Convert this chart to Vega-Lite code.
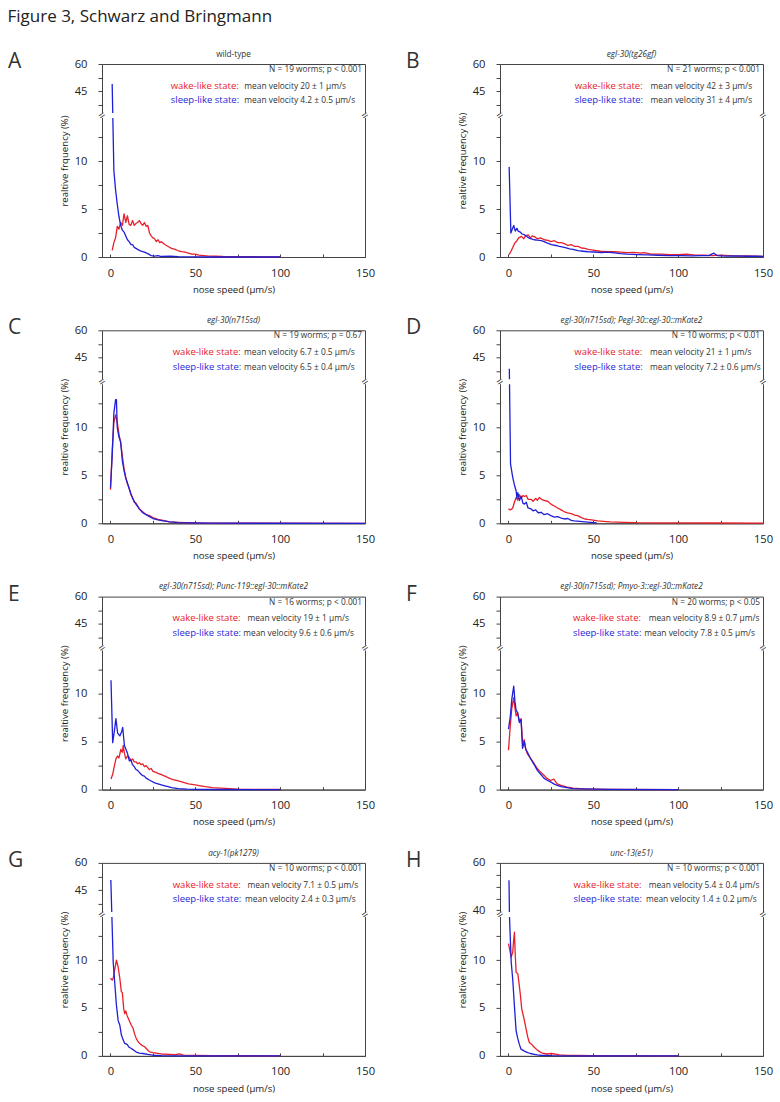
{
"$schema": "https://vega.github.io/schema/vega-lite/v6.json",
"padding": {"left": 7, "top": 8, "right": 0, "bottom": 0},
"autosize": {"type": "pad"},
"title": {"text": "Figure 3, Schwarz and Bringmann", "anchor": "start", "fontSize": 17, "fontStyle": "normal", "color": "#222", "offset": 23, "dy": 0, "frame": "bounds"},
"columns": 2,
"bounds": "flush",
"spacing": {"row": 73.3, "column": 135},
"datasets": {
"Aw": [{"x":1,"y":0.7},{"x":2,"y":1.5},{"x":3,"y":2.0},{"x":4,"y":3.2},{"x":5,"y":2.9},{"x":6,"y":3.6},{"x":7,"y":3.3},{"x":8,"y":4.5},{"x":9,"y":3.6},{"x":10,"y":4.3},{"x":11,"y":3.4},{"x":12,"y":3.3},{"x":13,"y":3.8},{"x":14,"y":3.3},{"x":15,"y":3.5},{"x":16,"y":3.6},{"x":17,"y":3.8},{"x":18,"y":3.5},{"x":19,"y":3.3},{"x":20,"y":3.6},{"x":21,"y":3.2},{"x":22,"y":3.3},{"x":23,"y":2.5},{"x":24,"y":2.2},{"x":25,"y":2.0},{"x":26,"y":1.9},{"x":27,"y":1.6},{"x":28,"y":1.8},{"x":29,"y":1.5},{"x":30,"y":1.6},{"x":32,"y":1.3},{"x":34,"y":1.1},{"x":36,"y":0.9},{"x":38,"y":0.8},{"x":40,"y":0.65},{"x":42,"y":0.55},{"x":44,"y":0.5},{"x":46,"y":0.4},{"x":48,"y":0.3},{"x":50,"y":0.3},{"x":52,"y":0.2},{"x":55,"y":0.15},{"x":58,"y":0.1},{"x":62,"y":0.08},{"x":66,"y":0.05},{"x":70,"y":0.04},{"x":80,"y":0.03},{"x":90,"y":0.02},{"x":100,"y":0.01}],
"As": [{"x":1,"y":49},{"x":2,"y":9},{"x":3,"y":7},{"x":4,"y":5.5},{"x":5,"y":4.2},{"x":6,"y":3.3},{"x":7,"y":2.8},{"x":8,"y":2.6},{"x":9,"y":2.2},{"x":10,"y":1.8},{"x":11,"y":1.6},{"x":12,"y":1.3},{"x":13,"y":1.3},{"x":14,"y":1.0},{"x":16,"y":0.8},{"x":18,"y":0.6},{"x":20,"y":0.5},{"x":22,"y":0.35},{"x":24,"y":0.15},{"x":26,"y":0.1},{"x":28,"y":0.15},{"x":30,"y":0.05},{"x":35,"y":0.1},{"x":40,"y":0.03},{"x":50,"y":0.01},{"x":60,"y":0},{"x":100,"y":0}],
"Bw": [{"x":0.4,"y":0.25},{"x":1.5,"y":0.6},{"x":2.5,"y":1.0},{"x":3.7,"y":1.45},{"x":5,"y":1.7},{"x":6,"y":2.0},{"x":7.6,"y":2.15},{"x":9,"y":1.9},{"x":10,"y":2.2},{"x":11.6,"y":2.3},{"x":13,"y":2.0},{"x":14,"y":2.2},{"x":15.5,"y":2.1},{"x":17,"y":1.9},{"x":19,"y":2.0},{"x":21,"y":1.8},{"x":23.3,"y":1.74},{"x":25,"y":1.6},{"x":27,"y":1.7},{"x":29,"y":1.5},{"x":31,"y":1.5},{"x":33,"y":1.4},{"x":35,"y":1.2},{"x":37,"y":1.3},{"x":39,"y":1.1},{"x":41,"y":1.1},{"x":43,"y":0.94},{"x":45,"y":0.9},{"x":47,"y":0.8},{"x":50.8,"y":0.7},{"x":54,"y":0.6},{"x":58,"y":0.55},{"x":62.5,"y":0.55},{"x":66,"y":0.5},{"x":70,"y":0.45},{"x":74,"y":0.48},{"x":78,"y":0.4},{"x":80,"y":0.45},{"x":84,"y":0.31},{"x":90,"y":0.3},{"x":95,"y":0.25},{"x":100,"y":0.25},{"x":105,"y":0.3},{"x":110,"y":0.2},{"x":115,"y":0.2},{"x":120,"y":0.15},{"x":125,"y":0.2},{"x":130,"y":0.15},{"x":135,"y":0.1},{"x":140,"y":0.12},{"x":145,"y":0.08},{"x":150,"y":0.05}],
"Bs": [{"x":0.4,"y":9.4},{"x":1.4,"y":2.5},{"x":2,"y":2.8},{"x":3.1,"y":3.3},{"x":4,"y":2.7},{"x":5,"y":3.0},{"x":5.7,"y":2.7},{"x":7,"y":2.6},{"x":8,"y":2.4},{"x":9.6,"y":2.3},{"x":11,"y":2.1},{"x":12,"y":2.0},{"x":13.5,"y":1.9},{"x":15,"y":1.8},{"x":17,"y":1.75},{"x":19.4,"y":1.7},{"x":21,"y":1.6},{"x":23,"y":1.45},{"x":25.3,"y":1.3},{"x":28,"y":1.2},{"x":30,"y":1.1},{"x":33,"y":1.0},{"x":36,"y":0.85},{"x":38,"y":0.8},{"x":41,"y":0.66},{"x":44,"y":0.6},{"x":47,"y":0.55},{"x":50.8,"y":0.52},{"x":55,"y":0.45},{"x":58,"y":0.5},{"x":62.5,"y":0.43},{"x":66,"y":0.35},{"x":70,"y":0.3},{"x":76,"y":0.25},{"x":82,"y":0.22},{"x":88,"y":0.18},{"x":95,"y":0.15},{"x":102,"y":0.15},{"x":108,"y":0.12},{"x":114,"y":0.15},{"x":118,"y":0.15},{"x":121,"y":0.4},{"x":123,"y":0.15},{"x":128,"y":0.1},{"x":135,"y":0.12},{"x":140,"y":0.08},{"x":146,"y":0.1},{"x":150,"y":0.05}],
"Cw": [{"x":0,"y":3.5},{"x":1,"y":7.5},{"x":2,"y":10.5},{"x":3,"y":11.3},{"x":4,"y":10.5},{"x":5,"y":9.3},{"x":6,"y":8.4},{"x":7,"y":7},{"x":8,"y":5.7},{"x":9,"y":4.8},{"x":10,"y":4.1},{"x":11,"y":3.7},{"x":12,"y":3.0},{"x":13,"y":2.7},{"x":14,"y":2.2},{"x":15,"y":2.1},{"x":17,"y":1.5},{"x":19,"y":1.2},{"x":21,"y":0.9},{"x":23,"y":0.8},{"x":25,"y":0.6},{"x":28,"y":0.4},{"x":31,"y":0.3},{"x":35,"y":0.15},{"x":40,"y":0.1},{"x":50,"y":0.03},{"x":60,"y":0.01},{"x":150,"y":0}],
"Cs": [{"x":0,"y":3.7},{"x":1,"y":7},{"x":2,"y":11.5},{"x":3,"y":12.9},{"x":3.5,"y":12.9},{"x":4,"y":10},{"x":5,"y":9},{"x":6,"y":8.5},{"x":7,"y":6.5},{"x":8,"y":5.5},{"x":9,"y":4.7},{"x":10,"y":4.2},{"x":11,"y":3.6},{"x":12,"y":3.1},{"x":13,"y":2.6},{"x":14,"y":2.3},{"x":15,"y":2.0},{"x":17,"y":1.5},{"x":19,"y":1.1},{"x":21,"y":0.9},{"x":23,"y":0.7},{"x":25,"y":0.5},{"x":28,"y":0.35},{"x":31,"y":0.25},{"x":35,"y":0.15},{"x":40,"y":0.08},{"x":50,"y":0.03},{"x":60,"y":0.01},{"x":150,"y":0}],
"Dw": [{"x":0,"y":1.5},{"x":1,"y":1.4},{"x":2,"y":1.5},{"x":2.5,"y":1.6},{"x":3.5,"y":2.2},{"x":4.5,"y":2.7},{"x":5.5,"y":2.4},{"x":6.5,"y":3.0},{"x":7.5,"y":2.6},{"x":8.5,"y":2.9},{"x":9.4,"y":2.8},{"x":10.5,"y":2.9},{"x":11.5,"y":2.5},{"x":13.3,"y":2.5},{"x":14.5,"y":2.3},{"x":16,"y":2.6},{"x":17,"y":2.4},{"x":18.2,"y":2.7},{"x":19.5,"y":2.5},{"x":21,"y":2.4},{"x":23.1,"y":2.3},{"x":25,"y":2.0},{"x":27,"y":1.8},{"x":29,"y":1.6},{"x":31,"y":1.4},{"x":33,"y":1.2},{"x":34.8,"y":1.1},{"x":37,"y":1.0},{"x":39,"y":0.85},{"x":40.7,"y":0.8},{"x":43,"y":0.6},{"x":45,"y":0.45},{"x":46.6,"y":0.4},{"x":49,"y":0.35},{"x":52.5,"y":0.25},{"x":56,"y":0.2},{"x":60,"y":0.15},{"x":68,"y":0.1},{"x":75,"y":0.06},{"x":85,"y":0.05},{"x":100,"y":0.05},{"x":120,"y":0.03},{"x":150,"y":0.02}],
"Ds": [{"x":0.5,"y":38.8},{"x":1.2,"y":6.2},{"x":2.5,"y":4.8},{"x":3.5,"y":4.0},{"x":4.5,"y":3.4},{"x":5,"y":2.6},{"x":5.5,"y":3.2},{"x":6.5,"y":2.4},{"x":7.5,"y":2.8},{"x":8.5,"y":2.1},{"x":9.4,"y":2.0},{"x":10.5,"y":2.2},{"x":11.5,"y":1.6},{"x":13.3,"y":1.5},{"x":14.5,"y":1.3},{"x":16,"y":1.4},{"x":17.5,"y":1.1},{"x":19.2,"y":1.15},{"x":21,"y":0.9},{"x":23,"y":1.0},{"x":25,"y":0.8},{"x":27,"y":0.65},{"x":29,"y":0.7},{"x":30.9,"y":0.55},{"x":33,"y":0.45},{"x":35,"y":0.5},{"x":37,"y":0.3},{"x":38.7,"y":0.25},{"x":42,"y":0.2},{"x":45,"y":0.15},{"x":48.5,"y":0.1},{"x":52,"y":0.05}],
"Ew": [{"x":0.3,"y":1.1},{"x":1.3,"y":1.6},{"x":2.2,"y":2.4},{"x":3.2,"y":3.2},{"x":4.2,"y":3.5},{"x":5,"y":3.3},{"x":6.1,"y":4.2},{"x":7,"y":3.9},{"x":7.5,"y":4.6},{"x":8.2,"y":3.8},{"x":9,"y":3.2},{"x":10,"y":3.5},{"x":11,"y":3.4},{"x":12,"y":3.0},{"x":13,"y":3.2},{"x":14,"y":2.9},{"x":15,"y":2.9},{"x":16,"y":2.7},{"x":17,"y":2.8},{"x":18,"y":2.6},{"x":19,"y":2.7},{"x":20,"y":2.4},{"x":21,"y":2.5},{"x":22.9,"y":2.1},{"x":24,"y":2.2},{"x":25,"y":1.9},{"x":26.8,"y":1.8},{"x":28,"y":1.7},{"x":30.7,"y":1.5},{"x":32,"y":1.4},{"x":34.6,"y":1.2},{"x":36,"y":1.1},{"x":38,"y":1.0},{"x":40,"y":0.9},{"x":42,"y":0.8},{"x":44,"y":0.7},{"x":46,"y":0.6},{"x":48,"y":0.55},{"x":50,"y":0.5},{"x":53,"y":0.4},{"x":56,"y":0.3},{"x":60,"y":0.2},{"x":65,"y":0.15},{"x":70,"y":0.1},{"x":75,"y":0.05},{"x":85,"y":0.02},{"x":100,"y":0.01}],
"Es": [{"x":0.3,"y":11.4},{"x":1.3,"y":4.9},{"x":2.2,"y":6.0},{"x":3.2,"y":7.4},{"x":4.2,"y":5.9},{"x":5.5,"y":5.6},{"x":6.5,"y":6.0},{"x":7.2,"y":6.5},{"x":8.2,"y":4.6},{"x":9.1,"y":4.2},{"x":10,"y":3.8},{"x":11.1,"y":3.0},{"x":12,"y":3.1},{"x":13,"y":2.6},{"x":14,"y":2.4},{"x":15,"y":2.1},{"x":16,"y":2.0},{"x":17,"y":1.8},{"x":18,"y":1.6},{"x":19,"y":1.45},{"x":20,"y":1.4},{"x":21,"y":1.2},{"x":22.9,"y":1.0},{"x":24,"y":0.9},{"x":26,"y":0.7},{"x":28,"y":0.6},{"x":30,"y":0.5},{"x":32,"y":0.4},{"x":34,"y":0.3},{"x":36,"y":0.2},{"x":38,"y":0.15},{"x":40,"y":0.1},{"x":45,"y":0.05},{"x":50,"y":0.03},{"x":60,"y":0.01},{"x":100,"y":0}],
"Fw": [{"x":0,"y":4.1},{"x":1,"y":6.5},{"x":1.9,"y":8.4},{"x":3.1,"y":9.6},{"x":3.8,"y":8.5},{"x":4.5,"y":7.7},{"x":5.4,"y":8.0},{"x":6.4,"y":7.2},{"x":7.4,"y":7.4},{"x":8.3,"y":4.8},{"x":9.3,"y":5.2},{"x":10.2,"y":4.2},{"x":11.2,"y":3.7},{"x":12.5,"y":3.4},{"x":14.1,"y":3.0},{"x":15.5,"y":2.6},{"x":17,"y":2.2},{"x":18.5,"y":1.9},{"x":20.9,"y":1.5},{"x":22.5,"y":1.2},{"x":24.8,"y":0.95},{"x":26.7,"y":1.1},{"x":28.7,"y":0.6},{"x":31,"y":0.45},{"x":34.5,"y":0.25},{"x":38,"y":0.15},{"x":44,"y":0.07},{"x":50,"y":0.04},{"x":60,"y":0.02},{"x":100,"y":0}],
"Fs": [{"x":0,"y":6.3},{"x":1,"y":7.5},{"x":2,"y":9.5},{"x":3.1,"y":10.8},{"x":3.8,"y":9.2},{"x":4.5,"y":8.3},{"x":5.4,"y":8.0},{"x":6.4,"y":7.0},{"x":7.4,"y":7.3},{"x":8.3,"y":4.3},{"x":9.3,"y":5.0},{"x":10.2,"y":4.2},{"x":11.2,"y":3.9},{"x":12.5,"y":3.4},{"x":14.1,"y":2.9},{"x":15.5,"y":2.5},{"x":17,"y":2.0},{"x":18.5,"y":1.7},{"x":20.9,"y":1.2},{"x":22.5,"y":1.0},{"x":24.8,"y":0.8},{"x":26.7,"y":0.6},{"x":28.7,"y":0.45},{"x":31,"y":0.3},{"x":34.5,"y":0.2},{"x":38,"y":0.1},{"x":44,"y":0.07},{"x":50,"y":0.04},{"x":60,"y":0.02},{"x":100,"y":0}],
"Gw": [{"x":0,"y":8.1},{"x":1,"y":7.9},{"x":1.6,"y":8.1},{"x":2.5,"y":9.0},{"x":3.5,"y":10.0},{"x":4.5,"y":9.3},{"x":5.5,"y":8.1},{"x":6.4,"y":6.7},{"x":7,"y":6.6},{"x":7.8,"y":4.9},{"x":8.4,"y":4.4},{"x":9,"y":4.7},{"x":9.8,"y":4.2},{"x":11.3,"y":3.6},{"x":12.3,"y":3.2},{"x":13.3,"y":2.9},{"x":14.2,"y":2.3},{"x":15.2,"y":1.8},{"x":16.2,"y":1.5},{"x":17.2,"y":1.3},{"x":18.5,"y":1.1},{"x":20.1,"y":0.95},{"x":21.5,"y":0.7},{"x":23,"y":0.42},{"x":25,"y":0.35},{"x":26.9,"y":0.3},{"x":30,"y":0.2},{"x":34.8,"y":0.15},{"x":38,"y":0.12},{"x":40.7,"y":0.2},{"x":43,"y":0.08},{"x":50,"y":0.05},{"x":60,"y":0.03},{"x":100,"y":0.01}],
"Gs": [{"x":0.2,"y":50.6},{"x":1.6,"y":9.8},{"x":2.6,"y":7.4},{"x":3.5,"y":5.3},{"x":4.5,"y":3.7},{"x":5.5,"y":3.2},{"x":6.4,"y":2.2},{"x":7.4,"y":1.7},{"x":8.4,"y":1.3},{"x":9.8,"y":1.2},{"x":11,"y":0.9},{"x":12.3,"y":0.77},{"x":13.7,"y":0.6},{"x":15.2,"y":0.4},{"x":17,"y":0.3},{"x":19.1,"y":0.25},{"x":22,"y":0.15},{"x":25,"y":0.07},{"x":30,"y":0.03},{"x":40,"y":0.01},{"x":100,"y":0}],
"Hw": [{"x":0,"y":11.7},{"x":0.8,"y":11.0},{"x":1.6,"y":10.3},{"x":2.5,"y":10.8},{"x":3.0,"y":12.0},{"x":3.5,"y":12.9},{"x":4.0,"y":10.5},{"x":4.5,"y":8.7},{"x":5.5,"y":8.6},{"x":6.4,"y":7.3},{"x":7.1,"y":6.2},{"x":7.8,"y":4.9},{"x":9,"y":4.0},{"x":10.4,"y":2.8},{"x":11.3,"y":2.0},{"x":12.3,"y":1.4},{"x":13.7,"y":1.2},{"x":15.2,"y":0.9},{"x":17,"y":0.6},{"x":19.1,"y":0.35},{"x":21,"y":0.25},{"x":23,"y":0.2},{"x":25,"y":0.25},{"x":27,"y":0.2},{"x":30,"y":0.1},{"x":35,"y":0.06},{"x":40,"y":0.04},{"x":50,"y":0.02},{"x":100,"y":0.01}],
"Hs": [{"x":0.3,"y":52.7},{"x":0.6,"y":14.7},{"x":1.6,"y":9.8},{"x":2.5,"y":8.0},{"x":3.5,"y":5.2},{"x":4.5,"y":2.6},{"x":5.5,"y":1.8},{"x":6.4,"y":1.2},{"x":7.4,"y":0.7},{"x":8.4,"y":0.6},{"x":9.4,"y":0.5},{"x":11.3,"y":0.35},{"x":13,"y":0.25},{"x":15.2,"y":0.17},{"x":17,"y":0.1},{"x":19.1,"y":0.07},{"x":25,"y":0.03},{"x":40,"y":0.01},{"x":100,"y":0}]
},
"concat": [
{"width": 263, "height": 193, "title": {"text": "wild-type", "fontStyle": "normal"},
 "layer": [
  {"data": {"name": "Aw"}, "mark": {"type": "line", "color": "#e8202a"}, "encoding": {
    "x": {"field": "x", "type": "quantitative", "scale": {"domain": [-5, 150], "nice": false, "zero": false}, "axis": {"title": "nose speed (µm/s)", "values": [0,25,50,75,100,125,150], "labelExpr": "datum.value % 50 == 0 ? datum.label : ''"}},
    "y": {"field": "y", "type": "quantitative", "scale": {"domain": [0, 14.5, 33, 60], "range": [193, 54, 49, 0], "nice": false, "zero": false}, "axis": {"title": "realtive frquency (%)", "values": [0,2.5,5,7.5,10,12.5,37.5,45,52.5,60], "labelExpr": "datum.value==0||datum.value==5||datum.value==10||datum.value==45||datum.value==60 ? datum.label : ''"}}}},
  {"data": {"name": "As"}, "mark": {"type": "line", "color": "#1f1fd8"}, "encoding": {"x": {"field": "x", "type": "quantitative"}, "y": {"field": "y", "type": "quantitative"}}},
  {"data": {"values": [{}]}, "mark": {"type": "rect", "fill": "white"}, "encoding": {"x": {"datum": -6.5}, "x2": {"datum": 152}, "y": {"datum": 14.5}, "y2": {"datum": 33}}},
  {"data": {"values": [{}]}, "mark": {"type": "text", "style": "brk", "text": "="}, "encoding": {"x": {"datum": -5}, "y": {"datum": 23.75}}},
  {"data": {"values": [{}]}, "mark": {"type": "text", "style": "brk", "text": "="}, "encoding": {"x": {"datum": 150}, "y": {"datum": 23.75}}},
  {"data": {"values": [{}]}, "mark": {"type": "text", "style": "note", "text": "N = 19 worms; p < 0.001"}, "encoding": {"x": {"datum": 148.3}, "y": {"datum": 56.7}}},
  {"data": {"values": [{}]}, "mark": {"type": "text", "style": "wk", "color": "#e8202a", "text": "wake-like state:"}, "encoding": {"x": {"datum": 35.5}, "y": {"datum": 48}}},
  {"data": {"values": [{}]}, "mark": {"type": "text", "style": "val", "text": "mean velocity 20 ± 1 µm/s"}, "encoding": {"x": {"datum": 78.9}, "y": {"datum": 48}}},
  {"data": {"values": [{}]}, "mark": {"type": "text", "style": "sl", "color": "#1f1fd8", "text": "sleep-like state:"}, "encoding": {"x": {"datum": 35.5}, "y": {"datum": 39.9}}},
  {"data": {"values": [{}]}, "mark": {"type": "text", "style": "val", "text": "mean velocity 4.2 ± 0.5 µm/s"}, "encoding": {"x": {"datum": 78.9}, "y": {"datum": 39.9}}},
  {"data": {"values": [{}]}, "mark": {"type": "text", "style": "letter", "text": "A"}, "encoding": {"x": {"datum": -5}, "y": {"datum": 60}}}
 ]},
{"width": 263, "height": 193, "title": {"text": "egl-30(tg26gf)"},
 "layer": [
  {"data": {"name": "Bw"}, "mark": {"type": "line", "color": "#e8202a"}, "encoding": {
    "x": {"field": "x", "type": "quantitative", "scale": {"domain": [-5, 150], "nice": false, "zero": false}, "axis": {"title": "nose speed (µm/s)", "values": [0,25,50,75,100,125,150], "labelExpr": "datum.value % 50 == 0 ? datum.label : ''"}},
    "y": {"field": "y", "type": "quantitative", "scale": {"domain": [0, 14.5, 33, 60], "range": [193, 54, 49, 0], "nice": false, "zero": false}, "axis": {"title": "realtive frequency (%)", "values": [0,2.5,5,7.5,10,12.5,37.5,45,52.5,60], "labelExpr": "datum.value==0||datum.value==5||datum.value==10||datum.value==45||datum.value==60 ? datum.label : ''"}}}},
  {"data": {"name": "Bs"}, "mark": {"type": "line", "color": "#1f1fd8"}, "encoding": {"x": {"field": "x", "type": "quantitative"}, "y": {"field": "y", "type": "quantitative"}}},
  {"data": {"values": [{}]}, "mark": {"type": "rect", "fill": "white"}, "encoding": {"x": {"datum": -6.5}, "x2": {"datum": 152}, "y": {"datum": 14.5}, "y2": {"datum": 33}}},
  {"data": {"values": [{}]}, "mark": {"type": "text", "style": "brk", "text": "="}, "encoding": {"x": {"datum": -5}, "y": {"datum": 23.75}}},
  {"data": {"values": [{}]}, "mark": {"type": "text", "style": "brk", "text": "="}, "encoding": {"x": {"datum": 150}, "y": {"datum": 23.75}}},
  {"data": {"values": [{}]}, "mark": {"type": "text", "style": "note", "text": "N = 21 worms; p < 0.001"}, "encoding": {"x": {"datum": 148.3}, "y": {"datum": 56.7}}},
  {"data": {"values": [{}]}, "mark": {"type": "text", "style": "wk", "color": "#e8202a", "text": "wake-like state:"}, "encoding": {"x": {"datum": 39}, "y": {"datum": 48}}},
  {"data": {"values": [{}]}, "mark": {"type": "text", "style": "val", "text": "mean velocity 42 ± 3 µm/s"}, "encoding": {"x": {"datum": 83.7}, "y": {"datum": 48}}},
  {"data": {"values": [{}]}, "mark": {"type": "text", "style": "sl", "color": "#1f1fd8", "text": "sleep-like state:"}, "encoding": {"x": {"datum": 39}, "y": {"datum": 39.9}}},
  {"data": {"values": [{}]}, "mark": {"type": "text", "style": "val", "text": "mean velocity 31 ± 4 µm/s"}, "encoding": {"x": {"datum": 83.7}, "y": {"datum": 39.9}}},
  {"data": {"values": [{}]}, "mark": {"type": "text", "style": "letter", "text": "B"}, "encoding": {"x": {"datum": -5}, "y": {"datum": 60}}}
 ]},
{"width": 263, "height": 193, "title": {"text": "egl-30(n715sd)"},
 "layer": [
  {"data": {"name": "Cw"}, "mark": {"type": "line", "color": "#e8202a"}, "encoding": {
    "x": {"field": "x", "type": "quantitative", "scale": {"domain": [-5, 150], "nice": false, "zero": false}, "axis": {"title": "nose speed (µm/s)", "values": [0,25,50,75,100,125,150], "labelExpr": "datum.value % 50 == 0 ? datum.label : ''"}},
    "y": {"field": "y", "type": "quantitative", "scale": {"domain": [0, 14.5, 33, 60], "range": [193, 54, 49, 0], "nice": false, "zero": false}, "axis": {"title": "realtive frequency (%)", "values": [0,2.5,5,7.5,10,12.5,37.5,45,52.5,60], "labelExpr": "datum.value==0||datum.value==5||datum.value==10||datum.value==45||datum.value==60 ? datum.label : ''"}}}},
  {"data": {"name": "Cs"}, "mark": {"type": "line", "color": "#1f1fd8"}, "encoding": {"x": {"field": "x", "type": "quantitative"}, "y": {"field": "y", "type": "quantitative"}}},
  {"data": {"values": [{}]}, "mark": {"type": "rect", "fill": "white"}, "encoding": {"x": {"datum": -6.5}, "x2": {"datum": 152}, "y": {"datum": 14.5}, "y2": {"datum": 33}}},
  {"data": {"values": [{}]}, "mark": {"type": "text", "style": "brk", "text": "="}, "encoding": {"x": {"datum": -5}, "y": {"datum": 23.75}}},
  {"data": {"values": [{}]}, "mark": {"type": "text", "style": "brk", "text": "="}, "encoding": {"x": {"datum": 150}, "y": {"datum": 23.75}}},
  {"data": {"values": [{}]}, "mark": {"type": "text", "style": "note", "text": "N = 19 worms; p = 0.67"}, "encoding": {"x": {"datum": 148.3}, "y": {"datum": 56.7}}},
  {"data": {"values": [{}]}, "mark": {"type": "text", "style": "wk", "color": "#e8202a", "text": "wake-like state:"}, "encoding": {"x": {"datum": 36.7}, "y": {"datum": 48}}},
  {"data": {"values": [{}]}, "mark": {"type": "text", "style": "val", "text": "mean velocity 6.7 ± 0.5 µm/s"}, "encoding": {"x": {"datum": 78.7}, "y": {"datum": 48}}},
  {"data": {"values": [{}]}, "mark": {"type": "text", "style": "sl", "color": "#1f1fd8", "text": "sleep-like state:"}, "encoding": {"x": {"datum": 36.7}, "y": {"datum": 39.9}}},
  {"data": {"values": [{}]}, "mark": {"type": "text", "style": "val", "text": "mean velocity 6.5 ± 0.4 µm/s"}, "encoding": {"x": {"datum": 78.7}, "y": {"datum": 39.9}}},
  {"data": {"values": [{}]}, "mark": {"type": "text", "style": "letter", "text": "C"}, "encoding": {"x": {"datum": -5}, "y": {"datum": 60}}}
 ]},
{"width": 263, "height": 193, "title": {"text": "egl-30(n715sd); Pegl-30::egl-30::mKate2"},
 "layer": [
  {"data": {"name": "Dw"}, "mark": {"type": "line", "color": "#e8202a"}, "encoding": {
    "x": {"field": "x", "type": "quantitative", "scale": {"domain": [-5, 150], "nice": false, "zero": false}, "axis": {"title": "nose speed (µm/s)", "values": [0,25,50,75,100,125,150], "labelExpr": "datum.value % 50 == 0 ? datum.label : ''"}},
    "y": {"field": "y", "type": "quantitative", "scale": {"domain": [0, 14.5, 33, 60], "range": [193, 54, 49, 0], "nice": false, "zero": false}, "axis": {"title": "realtive frequency (%)", "values": [0,2.5,5,7.5,10,12.5,37.5,45,52.5,60], "labelExpr": "datum.value==0||datum.value==5||datum.value==10||datum.value==45||datum.value==60 ? datum.label : ''"}}}},
  {"data": {"name": "Ds"}, "mark": {"type": "line", "color": "#1f1fd8"}, "encoding": {"x": {"field": "x", "type": "quantitative"}, "y": {"field": "y", "type": "quantitative"}}},
  {"data": {"values": [{}]}, "mark": {"type": "rect", "fill": "white"}, "encoding": {"x": {"datum": -6.5}, "x2": {"datum": 152}, "y": {"datum": 14.5}, "y2": {"datum": 33}}},
  {"data": {"values": [{}]}, "mark": {"type": "text", "style": "brk", "text": "="}, "encoding": {"x": {"datum": -5}, "y": {"datum": 23.75}}},
  {"data": {"values": [{}]}, "mark": {"type": "text", "style": "brk", "text": "="}, "encoding": {"x": {"datum": 150}, "y": {"datum": 23.75}}},
  {"data": {"values": [{}]}, "mark": {"type": "text", "style": "note", "text": "N = 10 worms; p < 0.01"}, "encoding": {"x": {"datum": 148.3}, "y": {"datum": 56.7}}},
  {"data": {"values": [{}]}, "mark": {"type": "text", "style": "wk", "color": "#e8202a", "text": "wake-like state:"}, "encoding": {"x": {"datum": 38.8}, "y": {"datum": 48}}},
  {"data": {"values": [{}]}, "mark": {"type": "text", "style": "val", "text": "mean velocity 21 ± 1 µm/s"}, "encoding": {"x": {"datum": 83.4}, "y": {"datum": 48}}},
  {"data": {"values": [{}]}, "mark": {"type": "text", "style": "sl", "color": "#1f1fd8", "text": "sleep-like state:"}, "encoding": {"x": {"datum": 38.8}, "y": {"datum": 39.9}}},
  {"data": {"values": [{}]}, "mark": {"type": "text", "style": "val", "text": "mean velocity 7.2 ± 0.6 µm/s"}, "encoding": {"x": {"datum": 83.4}, "y": {"datum": 39.9}}},
  {"data": {"values": [{}]}, "mark": {"type": "text", "style": "letter", "text": "D"}, "encoding": {"x": {"datum": -5}, "y": {"datum": 60}}}
 ]},
{"width": 263, "height": 193, "title": {"text": "egl-30(n715sd); Punc-119::egl-30::mKate2"},
 "layer": [
  {"data": {"name": "Ew"}, "mark": {"type": "line", "color": "#e8202a"}, "encoding": {
    "x": {"field": "x", "type": "quantitative", "scale": {"domain": [-5, 150], "nice": false, "zero": false}, "axis": {"title": "nose speed (µm/s)", "values": [0,25,50,75,100,125,150], "labelExpr": "datum.value % 50 == 0 ? datum.label : ''"}},
    "y": {"field": "y", "type": "quantitative", "scale": {"domain": [0, 14.5, 33, 60], "range": [193, 54, 49, 0], "nice": false, "zero": false}, "axis": {"title": "realtive frequency (%)", "values": [0,2.5,5,7.5,10,12.5,37.5,45,52.5,60], "labelExpr": "datum.value==0||datum.value==5||datum.value==10||datum.value==45||datum.value==60 ? datum.label : ''"}}}},
  {"data": {"name": "Es"}, "mark": {"type": "line", "color": "#1f1fd8"}, "encoding": {"x": {"field": "x", "type": "quantitative"}, "y": {"field": "y", "type": "quantitative"}}},
  {"data": {"values": [{}]}, "mark": {"type": "rect", "fill": "white"}, "encoding": {"x": {"datum": -6.5}, "x2": {"datum": 152}, "y": {"datum": 14.5}, "y2": {"datum": 33}}},
  {"data": {"values": [{}]}, "mark": {"type": "text", "style": "brk", "text": "="}, "encoding": {"x": {"datum": -5}, "y": {"datum": 23.75}}},
  {"data": {"values": [{}]}, "mark": {"type": "text", "style": "brk", "text": "="}, "encoding": {"x": {"datum": 150}, "y": {"datum": 23.75}}},
  {"data": {"values": [{}]}, "mark": {"type": "text", "style": "note", "text": "N = 16 worms; p < 0.001"}, "encoding": {"x": {"datum": 148.3}, "y": {"datum": 56.7}}},
  {"data": {"values": [{}]}, "mark": {"type": "text", "style": "wk", "color": "#e8202a", "text": "wake-like state:"}, "encoding": {"x": {"datum": 36.6}, "y": {"datum": 48}}},
  {"data": {"values": [{}]}, "mark": {"type": "text", "style": "val", "text": "mean velocity 19 ± 1 µm/s"}, "encoding": {"x": {"datum": 80.7}, "y": {"datum": 48}}},
  {"data": {"values": [{}]}, "mark": {"type": "text", "style": "sl", "color": "#1f1fd8", "text": "sleep-like state:"}, "encoding": {"x": {"datum": 36.6}, "y": {"datum": 39.9}}},
  {"data": {"values": [{}]}, "mark": {"type": "text", "style": "val", "text": "mean velocity 9.6 ± 0.6 µm/s"}, "encoding": {"x": {"datum": 78.2}, "y": {"datum": 39.9}}},
  {"data": {"values": [{}]}, "mark": {"type": "text", "style": "letter", "text": "E"}, "encoding": {"x": {"datum": -5}, "y": {"datum": 60}}}
 ]},
{"width": 263, "height": 193, "title": {"text": "egl-30(n715sd); Pmyo-3::egl-30::mKate2"},
 "layer": [
  {"data": {"name": "Fw"}, "mark": {"type": "line", "color": "#e8202a"}, "encoding": {
    "x": {"field": "x", "type": "quantitative", "scale": {"domain": [-5, 150], "nice": false, "zero": false}, "axis": {"title": "nose speed (µm/s)", "values": [0,25,50,75,100,125,150], "labelExpr": "datum.value % 50 == 0 ? datum.label : ''"}},
    "y": {"field": "y", "type": "quantitative", "scale": {"domain": [0, 14.5, 33, 60], "range": [193, 54, 49, 0], "nice": false, "zero": false}, "axis": {"title": "realtive frequency (%)", "values": [0,2.5,5,7.5,10,12.5,37.5,45,52.5,60], "labelExpr": "datum.value==0||datum.value==5||datum.value==10||datum.value==45||datum.value==60 ? datum.label : ''"}}}},
  {"data": {"name": "Fs"}, "mark": {"type": "line", "color": "#1f1fd8"}, "encoding": {"x": {"field": "x", "type": "quantitative"}, "y": {"field": "y", "type": "quantitative"}}},
  {"data": {"values": [{}]}, "mark": {"type": "rect", "fill": "white"}, "encoding": {"x": {"datum": -6.5}, "x2": {"datum": 152}, "y": {"datum": 14.5}, "y2": {"datum": 33}}},
  {"data": {"values": [{}]}, "mark": {"type": "text", "style": "brk", "text": "="}, "encoding": {"x": {"datum": -5}, "y": {"datum": 23.75}}},
  {"data": {"values": [{}]}, "mark": {"type": "text", "style": "brk", "text": "="}, "encoding": {"x": {"datum": 150}, "y": {"datum": 23.75}}},
  {"data": {"values": [{}]}, "mark": {"type": "text", "style": "note", "text": "N = 20 worms; p < 0.05"}, "encoding": {"x": {"datum": 148.3}, "y": {"datum": 56.7}}},
  {"data": {"values": [{}]}, "mark": {"type": "text", "style": "wk", "color": "#e8202a", "text": "wake-like state:"}, "encoding": {"x": {"datum": 38}, "y": {"datum": 48}}},
  {"data": {"values": [{}]}, "mark": {"type": "text", "style": "val", "text": "mean velocity 8.9 ± 0.7 µm/s"}, "encoding": {"x": {"datum": 82.6}, "y": {"datum": 48}}},
  {"data": {"values": [{}]}, "mark": {"type": "text", "style": "sl", "color": "#1f1fd8", "text": "sleep-like state:"}, "encoding": {"x": {"datum": 38}, "y": {"datum": 39.9}}},
  {"data": {"values": [{}]}, "mark": {"type": "text", "style": "val", "text": "mean velocity 7.8 ± 0.5 µm/s"}, "encoding": {"x": {"datum": 80}, "y": {"datum": 39.9}}},
  {"data": {"values": [{}]}, "mark": {"type": "text", "style": "letter", "text": "F"}, "encoding": {"x": {"datum": -5}, "y": {"datum": 60}}}
 ]},
{"width": 263, "height": 193, "title": {"text": "acy-1(pk1279)"},
 "layer": [
  {"data": {"name": "Gw"}, "mark": {"type": "line", "color": "#e8202a"}, "encoding": {
    "x": {"field": "x", "type": "quantitative", "scale": {"domain": [-5, 150], "nice": false, "zero": false}, "axis": {"title": "nose speed (µm/s)", "values": [0,25,50,75,100,125,150], "labelExpr": "datum.value % 50 == 0 ? datum.label : ''"}},
    "y": {"field": "y", "type": "quantitative", "scale": {"domain": [0, 14.5, 33, 60], "range": [193, 54, 49, 0], "nice": false, "zero": false}, "axis": {"title": "realtive frequency (%)", "values": [0,2.5,5,7.5,10,12.5,37.5,45,52.5,60], "labelExpr": "datum.value==0||datum.value==5||datum.value==10||datum.value==45||datum.value==60 ? datum.label : ''"}}}},
  {"data": {"name": "Gs"}, "mark": {"type": "line", "color": "#1f1fd8"}, "encoding": {"x": {"field": "x", "type": "quantitative"}, "y": {"field": "y", "type": "quantitative"}}},
  {"data": {"values": [{}]}, "mark": {"type": "rect", "fill": "white"}, "encoding": {"x": {"datum": -6.5}, "x2": {"datum": 152}, "y": {"datum": 14.5}, "y2": {"datum": 33}}},
  {"data": {"values": [{}]}, "mark": {"type": "text", "style": "brk", "text": "="}, "encoding": {"x": {"datum": -5}, "y": {"datum": 23.75}}},
  {"data": {"values": [{}]}, "mark": {"type": "text", "style": "brk", "text": "="}, "encoding": {"x": {"datum": 150}, "y": {"datum": 23.75}}},
  {"data": {"values": [{}]}, "mark": {"type": "text", "style": "note", "text": "N = 10 worms; p < 0.001"}, "encoding": {"x": {"datum": 148.3}, "y": {"datum": 56.7}}},
  {"data": {"values": [{}]}, "mark": {"type": "text", "style": "wk", "color": "#e8202a", "text": "wake-like state:"}, "encoding": {"x": {"datum": 36.7}, "y": {"datum": 48}}},
  {"data": {"values": [{}]}, "mark": {"type": "text", "style": "val", "text": "mean velocity 7.1 ± 0.5 µm/s"}, "encoding": {"x": {"datum": 80.7}, "y": {"datum": 48}}},
  {"data": {"values": [{}]}, "mark": {"type": "text", "style": "sl", "color": "#1f1fd8", "text": "sleep-like state:"}, "encoding": {"x": {"datum": 36.7}, "y": {"datum": 39.9}}},
  {"data": {"values": [{}]}, "mark": {"type": "text", "style": "val", "text": "mean velocity  2.4 ± 0.3 µm/s"}, "encoding": {"x": {"datum": 79.3}, "y": {"datum": 39.9}}},
  {"data": {"values": [{}]}, "mark": {"type": "text", "style": "letter", "text": "G"}, "encoding": {"x": {"datum": -5}, "y": {"datum": 60}}}
 ]},
{"width": 263, "height": 193, "title": {"text": "unc-13(e51)"},
 "layer": [
  {"data": {"name": "Hw"}, "mark": {"type": "line", "color": "#e8202a"}, "encoding": {
    "x": {"field": "x", "type": "quantitative", "scale": {"domain": [-5, 150], "nice": false, "zero": false}, "axis": {"title": "nose speed (µm/s)", "values": [0,25,50,75,100,125,150], "labelExpr": "datum.value % 50 == 0 ? datum.label : ''"}},
    "y": {"field": "y", "type": "quantitative", "scale": {"domain": [0, 14.5, 39.3, 60], "range": [193, 54, 49, 0], "nice": false, "zero": false}, "axis": {"title": "realtive frequency (%)", "values": [0,2.5,5,7.5,10,12.5,40,45,50,55,60], "labelExpr": "datum.value==0||datum.value==5||datum.value==10||datum.value==40||datum.value==60 ? datum.label : ''"}}}},
  {"data": {"name": "Hs"}, "mark": {"type": "line", "color": "#1f1fd8"}, "encoding": {"x": {"field": "x", "type": "quantitative"}, "y": {"field": "y", "type": "quantitative"}}},
  {"data": {"values": [{}]}, "mark": {"type": "rect", "fill": "white"}, "encoding": {"x": {"datum": -6.5}, "x2": {"datum": 152}, "y": {"datum": 14.5}, "y2": {"datum": 39.3}}},
  {"data": {"values": [{}]}, "mark": {"type": "text", "style": "brk", "text": "="}, "encoding": {"x": {"datum": -5}, "y": {"datum": 26.9}}},
  {"data": {"values": [{}]}, "mark": {"type": "text", "style": "brk", "text": "="}, "encoding": {"x": {"datum": 150}, "y": {"datum": 26.9}}},
  {"data": {"values": [{}]}, "mark": {"type": "text", "style": "note", "text": "N = 10 worms; p < 0.001"}, "encoding": {"x": {"datum": 148.3}, "y": {"datum": 57.5}}},
  {"data": {"values": [{}]}, "mark": {"type": "text", "style": "wk", "color": "#e8202a", "text": "wake-like state:"}, "encoding": {"x": {"datum": 38.3}, "y": {"datum": 50.8}}},
  {"data": {"values": [{}]}, "mark": {"type": "text", "style": "val", "text": "mean velocity 5.4 ± 0.4 µm/s"}, "encoding": {"x": {"datum": 82.6}, "y": {"datum": 50.8}}},
  {"data": {"values": [{}]}, "mark": {"type": "text", "style": "sl", "color": "#1f1fd8", "text": "sleep-like state:"}, "encoding": {"x": {"datum": 38.3}, "y": {"datum": 44.6}}},
  {"data": {"values": [{}]}, "mark": {"type": "text", "style": "val", "text": "mean velocity  1.4 ± 0.2 µm/s"}, "encoding": {"x": {"datum": 81}, "y": {"datum": 44.6}}},
  {"data": {"values": [{}]}, "mark": {"type": "text", "style": "letter", "text": "H"}, "encoding": {"x": {"datum": -5}, "y": {"datum": 60}}}
 ]}
],
"config": {
 "font": "Open Sans",
 "view": {"stroke": "#444", "strokeWidth": 1},
 "line": {"strokeWidth": 1.3, "strokeJoin": "round"},
 "text": {"color": "#333"},
 "axis": {"grid": false, "domainColor": "#444", "tickColor": "#444", "labelColor": "#222", "titleColor": "#222", "labelFontSize": 11.2, "titleFontSize": 9.6, "titleFontWeight": "normal", "labelOverlap": false, "labelFlush": false, "tickCount": 40},
 "axisX": {"tickSize": -3, "labelPadding": 13, "titlePadding": 6},
 "axisY": {"tickSize": 4, "labelPadding": 11, "titlePadding": 5},
 "title": {"fontSize": 8.2, "fontWeight": "normal", "fontStyle": "italic", "color": "#333", "offset": 4, "dy": 12},
 "style": {
  "brk": {"fontSize": 12, "angle": -35, "align": "center", "baseline": "middle"},
  "note": {"fontSize": 8.3, "align": "right", "baseline": "middle"},
  "val": {"fontSize": 8.4, "align": "left", "baseline": "middle"},
  "wk": {"fontSize": 9.5, "align": "left", "baseline": "middle"},
  "sl": {"fontSize": 9.5, "align": "left", "baseline": "middle"},
  "letter": {"fontSize": 21, "align": "left", "baseline": "alphabetic", "dx": -94, "dy": 4}
 }
}
}
